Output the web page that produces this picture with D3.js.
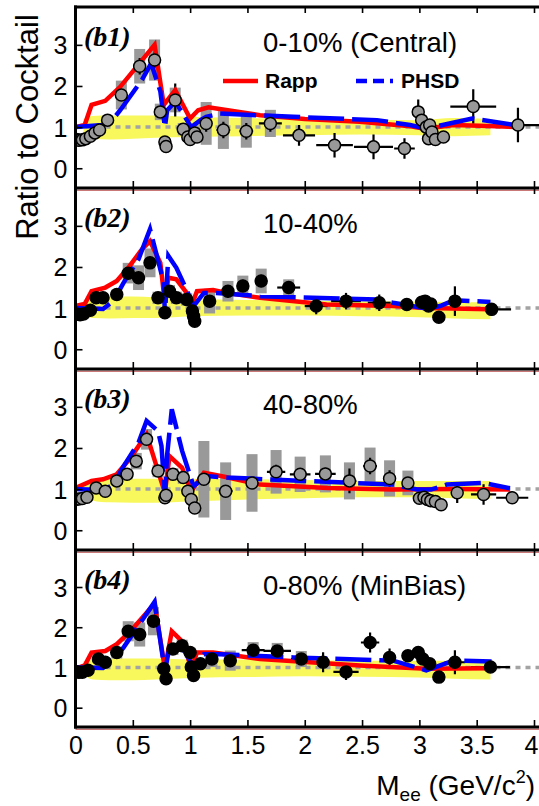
<!DOCTYPE html>
<html>
<head>
<meta charset="utf-8">
<script src="https://cdn.jsdelivr.net/npm/d3@7"></script>
<style>
  body { margin: 0; background: #fff; }
  svg { display: block; }
</style>
</head>
<body>
<svg id="chart" width="539" height="806"></svg>
<script>
// ---- Data: ratio of dielectron yield to hadronic cocktail vs. Mee ----
// Each point row: [Mee (GeV/c2), ratio, stat. error, syst. error, half bin width]

const panelLabels = ["(b1)", "(b2)", "(b3)", "(b4)"];
const centralityLabels = ["0-10% (Central)", "10-40%", "40-80%", "0-80% (MinBias)"];
const markerFills = ["#999999", "#000000", "#999999", "#000000"];

const xTicks = [0, 0.5, 1, 1.5, 2, 2.5, 3, 3.5, 4];
const xTickLabels = ["0", "0.5", "1", "1.5", "2", "2.5", "3", "3.5", "4"];
const yTicks = [0, 1, 2, 3];
const yTickLabels = ["0", "1", "2", "3"];

const points010 = [
  [0.01,0.70,0,0,0],[0.03,0.68,0,0,0],[0.06,0.69,0,0,0],[0.09,0.72,0,0,0],
  [0.13,0.78,0,0,0],[0.17,0.86,0,0,0],[0.21,0.93,0,0,0],[0.28,1.17,0,0.05,0],
  [0.40,1.78,0.10,0.35,0],[0.56,2.48,0.20,0.42,0],[0.69,2.63,0.20,0.50,0],
  [0.74,1.37,0.10,0.20,0],[0.78,0.64,0,0,0],[0.79,0.53,0,0,0],
  [0.87,1.66,0.40,0.30,0],[0.94,0.95,0.10,0.15,0],[0.98,0.76,0,0.10,0],
  [1.00,0.70,0,0,0],[1.04,0.86,0,0.10,0],[1.06,0.76,0,0,0],
  [1.14,1.09,0.20,0.52,0],[1.29,0.93,0.20,0.46,0.06],[1.49,0.90,0.20,0.40,0.06],
  [1.70,1.09,0.20,0.33,0.10],[1.95,0.80,0.25,0,0.14],[2.26,0.56,0.30,0,0.16],
  [2.60,0.52,0.30,0,0.17],[2.87,0.48,0.25,0,0.09],[2.99,1.37,0.30,0,0],
  [3.02,1.17,0,0,0],[3.06,1.00,0,0,0],[3.08,0.72,0,0,0],[3.09,1.05,0,0,0],
  [3.11,0.88,0,0,0],[3.14,0.70,0,0,0],[3.21,0.76,0,0,0],
  [3.47,1.50,0.42,0,0.20],[3.86,1.05,0.42,0,0.26]
];
const points1040 = [
  [0.01,0.85,0,0,0],[0.04,0.84,0,0,0],[0.07,0.86,0,0,0],[0.13,0.95,0,0.05,0],
  [0.18,1.25,0,0.10,0],[0.24,1.25,0,0.10,0],[0.36,1.33,0.05,0.12,0],
  [0.46,1.85,0.10,0.25,0],[0.55,1.74,0.12,0.30,0],[0.65,2.10,0.15,0.35,0],
  [0.72,1.25,0.10,0.15,0],[0.78,0.89,0,0.10,0],[0.82,1.41,0.12,0.15,0],
  [0.88,1.25,0.12,0.15,0],[0.97,1.21,0.10,0.15,0],[1.02,0.93,0,0.10,0],
  [1.03,0.80,0,0,0],[1.04,0.68,0,0,0],[1.17,1.17,0.12,0.30,0],
  [1.33,1.41,0.15,0.25,0.04],[1.46,1.54,0.15,0.25,0.04],[1.62,1.66,0.15,0.30,0.04],
  [1.86,1.50,0.12,0.20,0.10],[2.10,1.05,0.20,0,0.10],[2.36,1.17,0.20,0,0.13],
  [2.65,1.13,0.20,0,0.10],[2.89,1.09,0.15,0,0.05],[3.02,1.14,0,0,0],
  [3.05,1.17,0,0,0],[3.08,1.05,0,0,0],[3.10,1.10,0,0,0],[3.17,0.78,0,0,0],
  [3.31,1.17,0.36,0,0],[3.63,0.97,0.15,0,0.17]
];
const points4080 = [
  [0.00,0.75,0,0,0],[0.03,0.76,0,0,0],[0.06,0.77,0,0,0],[0.10,0.80,0,0,0],
  [0.18,1.03,0,0,0],[0.26,0.95,0,0,0],[0.36,1.20,0,0.10,0],[0.45,1.36,0,0.12,0],
  [0.53,1.68,0,0.20,0],[0.62,2.21,0.10,0.25,0],[0.72,1.44,0,0.15,0],
  [0.78,0.79,0,0,0],[0.79,0.85,0,0,0],[0.85,1.36,0,0.15,0],[0.94,1.28,0,0.15,0],
  [0.98,0.95,0,0,0],[1.01,0.75,0,0,0],[1.04,0.54,0,0,0],
  [1.12,1.24,0,0.93,0],[1.31,0.95,0,0.70,0.06],[1.54,1.15,0,0.70,0.04],
  [1.75,1.42,0.17,0.53,0.08],[1.96,1.36,0.15,0.43,0.09],[2.18,1.37,0.15,0.45,0.09],
  [2.39,1.20,0.30,0.45,0.06],[2.57,1.56,0.20,0.45,0.06],[2.74,1.26,0.20,0.44,0.04],
  [2.90,1.15,0.12,0.30,0.04],[3.00,0.78,0,0,0],[3.04,0.80,0,0,0],
  [3.07,0.75,0,0,0],[3.10,0.72,0,0,0],[3.14,0.70,0,0,0],[3.19,0.62,0,0,0],
  [3.33,0.91,0.25,0,0],[3.56,0.87,0.25,0,0.11],[3.81,0.79,0.15,0,0.14]
];
const points080 = [
  [0.00,0.90,0,0,0],[0.03,0.88,0,0,0],[0.06,0.88,0,0,0],[0.11,0.93,0,0.05,0],
  [0.20,1.21,0,0.10,0],[0.26,1.13,0,0.10,0],[0.36,1.37,0,0.15,0],
  [0.46,1.90,0.05,0.25,0],[0.56,1.82,0.08,0.30,0],[0.68,2.15,0.10,0.35,0],
  [0.77,0.97,0,0.10,0],[0.79,0.72,0,0,0],[0.85,1.46,0.05,0.15,0],
  [0.93,1.54,0.05,0.15,0],[1.00,1.37,0.05,0.12,0],[1.01,1.01,0,0.10,0],
  [1.03,0.80,0,0,0],[1.09,1.09,0,0.10,0],[1.19,1.21,0.05,0.20,0],
  [1.35,1.17,0.05,0.25,0],[1.55,1.43,0.08,0.20,0.10],[1.76,1.41,0.08,0.20,0.12],
  [1.97,1.21,0.10,0.20,0.09],[2.16,1.13,0.25,0,0.04],[2.36,0.89,0.20,0,0.11],
  [2.57,1.62,0.25,0,0.08],[2.74,1.25,0.22,0,0.05],[2.90,1.29,0.10,0.10,0.04],
  [2.99,1.37,0.10,0.10,0],[3.03,1.21,0,0,0],[3.09,1.09,0,0,0],[3.17,0.76,0,0,0],
  [3.31,1.13,0.30,0,0.09],[3.62,1.01,0.10,0,0.17]
];

// Model curves [Mee, ratio]
const rapp010 = [[0,1.0],[0.08,1.05],[0.14,1.54],[0.26,1.64],[0.39,1.98],[0.69,3.0],[0.77,1.54],[0.87,1.9],[1.0,1.21],[1.07,1.41],[1.16,1.48],[1.3,1.42],[1.61,1.29],[2.0,1.2],[2.48,1.13],[2.9,1.03],[3.02,0.97],[3.1,0.98],[3.3,1.05],[3.6,1.03],[3.85,1.0]];
const phsd010 = [[0,1.0],[0.24,1.05],[0.32,1.17],[0.39,1.41],[0.58,2.15],[0.66,2.55],[0.74,1.87],[0.78,1.0],[0.80,1.41],[0.87,1.62],[1.01,1.0],[1.09,1.17],[1.14,1.25],[1.26,1.33],[1.9,1.25],[2.63,1.17],[2.92,1.05],[3.03,0.98],[3.12,1.0],[3.46,1.21],[3.84,1.05]];
const rapp1040 = [[0,1.05],[0.08,1.1],[0.14,1.41],[0.26,1.5],[0.36,1.66],[0.46,1.98],[0.58,2.43],[0.65,2.63],[0.74,2.1],[0.78,1.13],[0.81,1.74],[0.88,1.7],[0.97,1.37],[1.01,1.05],[1.06,1.41],[1.2,1.44],[1.32,1.37],[1.61,1.25],[2.19,1.09],[2.77,1.05],[3.06,1.0],[3.62,0.97]];
const phsd1040 = [[0,1.0],[0.24,0.98],[0.33,1.17],[0.42,1.62],[0.55,2.19],[0.65,2.92],[0.77,1.62],[0.78,0.85],[0.81,2.27],[0.88,1.98],[0.96,1.5],[1.03,1.05],[1.12,1.37],[1.23,1.37],[1.61,1.29],[2.63,1.21],[2.77,1.13],[3.06,0.99],[3.18,1.05],[3.30,1.19],[3.62,1.15]];
const rapp4080 = [[0,1.03],[0.14,1.2],[0.24,1.24],[0.36,1.36],[0.48,1.76],[0.62,2.33],[0.78,0.91],[0.82,1.8],[0.93,1.52],[1.01,0.95],[1.12,1.4],[1.3,1.3],[1.61,1.11],[2.2,1.03],[2.77,0.99],[3.3,1.0],[3.79,0.99]];
const phsd4080 = [[0,1.0],[0.24,0.97],[0.33,1.11],[0.42,1.56],[0.55,2.13],[0.62,2.66],[0.72,2.41],[0.75,2.05],[0.78,0.83],[0.80,1.85],[0.84,2.94],[0.93,1.93],[1.03,1.07],[1.14,1.32],[1.32,1.28],[1.9,1.21],[2.77,1.11],[2.98,0.99],[3.1,0.99],[3.24,1.11],[3.56,1.15],[3.79,1.02]];
const rapp080 = [[0,0.97],[0.08,1.05],[0.14,1.37],[0.26,1.41],[0.36,1.58],[0.48,1.9],[0.69,2.59],[0.78,0.97],[0.84,1.9],[0.94,1.62],[1.01,0.97],[1.06,1.37],[1.2,1.37],[1.61,1.21],[2.48,1.05],[3.06,0.97],[3.62,0.98]];
const phsd080 = [[0,1.0],[0.24,0.99],[0.33,1.17],[0.42,1.5],[0.69,2.63],[0.74,1.66],[0.78,0.89],[0.81,1.37],[0.87,1.66],[0.96,1.37],[1.03,1.01],[1.12,1.33],[1.26,1.33],[1.9,1.25],[2.77,1.17],[3.06,0.93],[3.30,1.17],[3.63,1.15]];

// Cocktail systematic uncertainty band
const bandMass = [0.07, 0.15, 0.3, 0.5, 0.7, 1.0, 1.5, 2.0, 2.5, 3.0, 3.3, 3.62];
const bandHigh010  = [1.20, 1.27, 1.28, 1.28, 1.28, 1.25, 1.22, 1.20, 1.18, 1.17, 1.22, 1.20];
const bandLow010   = [0.82, 0.72, 0.70, 0.72, 0.74, 0.76, 0.78, 0.80, 0.82, 0.80, 0.78, 0.80];
const bandHigh1040 = [1.18, 1.27, 1.28, 1.28, 1.26, 1.22, 1.20, 1.18, 1.17, 1.16, 1.15, 1.14];
const bandLow1040  = [0.82, 0.76, 0.75, 0.76, 0.76, 0.80, 0.82, 0.82, 0.80, 0.78, 0.75, 0.73];
const bandHigh4080 = [1.15, 1.22, 1.25, 1.25, 1.25, 1.25, 1.24, 1.22, 1.20, 1.20, 1.20, 1.20];
const bandLow4080  = [0.82, 0.72, 0.68, 0.67, 0.67, 0.70, 0.75, 0.78, 0.80, 0.80, 0.78, 0.76];
const bandHigh080  = [1.15, 1.20, 1.22, 1.22, 1.22, 1.20, 1.20, 1.18, 1.17, 1.17, 1.17, 1.17];
const bandLow080   = [0.82, 0.70, 0.68, 0.68, 0.70, 0.74, 0.76, 0.78, 0.77, 0.75, 0.72, 0.70];

const panels = [
  { points: points010,  rapp: rapp010,  phsd: phsd010,  hi: bandHigh010,  lo: bandLow010 },
  { points: points1040, rapp: rapp1040, phsd: phsd1040, hi: bandHigh1040, lo: bandLow1040 },
  { points: points4080, rapp: rapp4080, phsd: phsd4080, hi: bandHigh4080, lo: bandLow4080 },
  { points: points080,  rapp: rapp080,  phsd: phsd080,  hi: bandHigh080,  lo: bandLow080 }
];

// ---- Layout ----
const svg = d3.select("#chart");
const left = 75.5, right = 534;
const panelEdges = [7, 188, 369, 550, 727];
const yDomain = [-0.48, 3.92];
const sans = "'Liberation Sans', Arial, Helvetica, sans-serif";

const x = d3.scaleLinear().domain([0, 4]).range([left, right]);

const defs = svg.append("defs");

panels.forEach((p, i) => {
  const top = panelEdges[i], bottom = panelEdges[i + 1];
  const y = d3.scaleLinear().domain(yDomain).range([bottom, top]);
  const g = svg.append("g");

  defs.append("clipPath").attr("id", "clip" + i)
    .append("rect").attr("x", left).attr("y", top).attr("width", 539 - left).attr("height", bottom - top);
  const plot = g.append("g").attr("clip-path", `url(#clip${i})`);

  // cocktail uncertainty band
  const bandRows = bandMass.map((m, k) => ({ m, hi: p.hi[k], lo: p.lo[k] }));
  plot.append("path").datum(bandRows)
    .attr("d", d3.area().curve(d3.curveMonotoneX)
      .x(d => x(d.m)).y0(d => y(d.lo)).y1(d => y(d.hi)))
    .attr("fill", "#f8f85c");

  // unity reference line
  plot.append("line")
    .attr("x1", x(0)).attr("x2", x(4.1)).attr("y1", y(1)).attr("y2", y(1))
    .attr("stroke", "#a3a3a3").attr("stroke-width", 3.5).attr("stroke-dasharray", "5,5");

  // systematic boxes
  plot.selectAll("rect.sys").data(p.points.filter(d => d[3] > 0)).join("rect")
    .attr("class", "sys")
    .attr("x", d => x(d[0]) - 5.5).attr("width", 11)
    .attr("y", d => y(d[1] + d[3])).attr("height", d => y(d[1] - d[3]) - y(d[1] + d[3]))
    .attr("fill", "#999999");

  // statistical error bars and bin widths
  plot.selectAll("line.ey").data(p.points.filter(d => d[2] > 0)).join("line")
    .attr("class", "ey")
    .attr("x1", d => x(d[0])).attr("x2", d => x(d[0]))
    .attr("y1", d => y(d[1] - d[2])).attr("y2", d => y(d[1] + d[2]))
    .attr("stroke", "#000").attr("stroke-width", 2.2);
  plot.selectAll("line.ex").data(p.points.filter(d => d[4] > 0)).join("line")
    .attr("class", "ex")
    .attr("x1", d => x(d[0] - d[4])).attr("x2", d => x(d[0] + d[4]))
    .attr("y1", d => y(d[1])).attr("y2", d => y(d[1]))
    .attr("stroke", "#000").attr("stroke-width", 2.2);

  // model curves
  const line = d3.line().x(d => x(d[0])).y(d => y(d[1]));
  plot.append("path").datum(p.rapp).attr("d", line)
    .attr("fill", "none").attr("stroke", "#ff0000").attr("stroke-width", 4.5)
    .attr("stroke-linejoin", "miter");
  plot.append("path").datum(p.phsd).attr("d", line)
    .attr("fill", "none").attr("stroke", "#0000ff").attr("stroke-width", 4.5)
    .attr("stroke-dasharray", "36,8").attr("stroke-linejoin", "miter");

  // data markers
  plot.selectAll("circle.pt").data(p.points).join("circle")
    .attr("class", "pt")
    .attr("cx", d => x(d[0])).attr("cy", d => y(d[1])).attr("r", 6)
    .attr("fill", markerFills[i]).attr("stroke", "#000").attr("stroke-width", 1.5);

  // axes: inward ticks on top, bottom and left
  const axB = d3.axisBottom(x).tickValues(xTicks).tickSize(-7).tickSizeOuter(0)
    .tickFormat((d, k) => (i === 3 ? xTickLabels[k] : ""));
  const gB = g.append("g").attr("transform", `translate(0,${bottom})`).call(axB);
  const axT = d3.axisTop(x).tickValues(xTicks).tickSize(-6).tickSizeOuter(0).tickFormat("");
  const gT = g.append("g").attr("transform", `translate(0,${top})`).call(axT);
  const axL = d3.axisLeft(y).tickValues(yTicks).tickSize(-7).tickSizeOuter(0)
    .tickFormat((d, k) => yTickLabels[k]);
  const gL = g.append("g").attr("transform", `translate(${left},0)`).call(axL);

  [gB, gT, gL].forEach(a => {
    a.select(".domain").remove();
    a.selectAll(".tick line").attr("stroke", "#000").attr("stroke-width", 1.6);
    a.selectAll(".tick text").attr("fill", "#000").attr("font-family", sans).attr("font-size", 25);
  });
  gL.selectAll(".tick text").attr("x", -8).attr("dy", "0.36em");
  gB.selectAll(".tick text").attr("y", 9).attr("dy", "0.72em");
  // keep the last label inside the right edge
  gB.selectAll(".tick text").filter(d => d === 4).attr("text-anchor", "end").attr("x", 4);

  // panel frame lines
  g.append("line").attr("x1", left).attr("x2", 539).attr("y1", bottom + 2.2).attr("y2", bottom + 2.2)
    .attr("stroke", "#b33a3a").attr("stroke-width", 1);
  g.append("line").attr("x1", left - 1.5).attr("x2", 539).attr("y1", bottom).attr("y2", bottom)
    .attr("stroke", "#000").attr("stroke-width", 3);

  // labels
  g.append("text").attr("x", 84).attr("y", top + 39)
    .attr("font-family", "'Liberation Serif', 'Times New Roman', serif")
    .attr("font-weight", "bold").attr("font-style", "italic").attr("font-size", 28)
    .text(panelLabels[i]);
  g.append("text").attr("x", 263).attr("y", top + 45)
    .attr("font-family", sans).attr("font-size", 27.5)
    .text(centralityLabels[i]);
});

// outer frame: top edge and left axis
svg.append("line").attr("x1", left - 1.5).attr("x2", 539).attr("y1", panelEdges[0]).attr("y2", panelEdges[0])
  .attr("stroke", "#000").attr("stroke-width", 3);
svg.append("line").attr("x1", left).attr("x2", left).attr("y1", panelEdges[0] - 1.5).attr("y2", panelEdges[4] + 1.5)
  .attr("stroke", "#000").attr("stroke-width", 3);

// legend
const legend = svg.append("g");
legend.append("line").attr("x1", 223).attr("x2", 258).attr("y1", 81).attr("y2", 81)
  .attr("stroke", "#ff0000").attr("stroke-width", 4.5);
legend.append("text").attr("x", 265).attr("y", 88)
  .attr("font-family", sans).attr("font-weight", "bold").attr("font-size", 21).text("Rapp");
legend.append("line").attr("x1", 356).attr("x2", 393).attr("y1", 81).attr("y2", 81)
  .attr("stroke", "#0000ff").attr("stroke-width", 4.5).attr("stroke-dasharray", "11,6");
legend.append("text").attr("x", 401).attr("y", 88)
  .attr("font-family", sans).attr("font-weight", "bold").attr("font-size", 21).text("PHSD");

// axis titles
svg.append("text").attr("transform", "translate(38,127) rotate(-90)")
  .attr("text-anchor", "middle").attr("font-family", sans).attr("font-size", 31)
  .text("Ratio to Cocktail");

const xt = svg.append("text").attr("x", 535).attr("y", 795).attr("text-anchor", "end")
  .attr("font-family", sans).attr("font-size", 28);
xt.append("tspan").text("M");
xt.append("tspan").attr("font-size", 19).attr("dy", 6).text("ee");
xt.append("tspan").attr("dy", -6).text(" (GeV/c");
xt.append("tspan").attr("font-size", 18).attr("dy", -12).text("2");
xt.append("tspan").attr("dy", 12).text(")");
</script>
</body>
</html>
